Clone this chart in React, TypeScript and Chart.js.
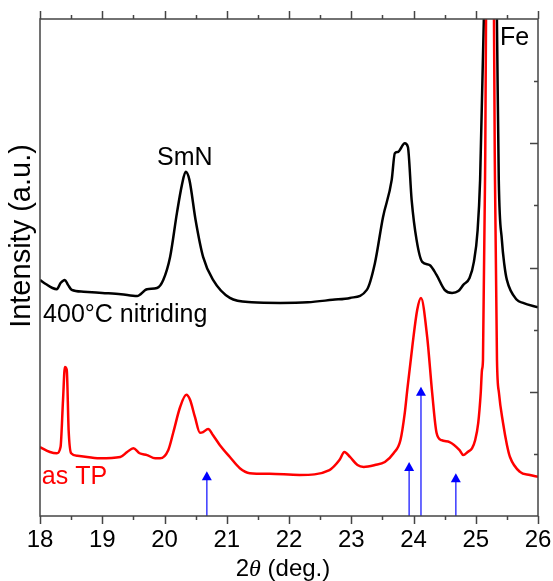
import React, { useEffect, useRef } from "react";
import { Chart, registerables } from "chart.js";

Chart.register(...registerables);

// ---- Data ----
const xTicks = [18, 19, 20, 21, 22, 23, 24, 25, 26];

const nitridedX = [18.0, 18.1, 18.2, 18.27, 18.33, 18.4, 18.45, 18.51, 18.7, 19.0, 19.3, 19.56, 19.72, 19.88, 19.98, 20.09, 20.2, 20.28, 20.34, 20.4, 20.5, 20.62, 20.78, 21.05, 21.4, 21.86, 22.3, 22.7, 22.98, 23.25, 23.38, 23.51, 23.65, 23.7, 23.75, 23.86, 23.91, 23.97, 24.05, 24.14, 24.26, 24.37, 24.5, 24.62, 24.72, 24.8, 24.9, 24.97, 25.03, 25.07, 25.13, 25.235, 25.34, 25.37, 25.42, 25.46, 25.5, 25.66, 25.76, 26.0];
const nitridedY = [3.80, 3.73, 3.67, 3.65, 3.75, 3.80, 3.72, 3.64, 3.61, 3.59, 3.57, 3.54, 3.65, 3.67, 3.80, 4.17, 4.88, 5.33, 5.54, 5.41, 4.76, 4.17, 3.80, 3.51, 3.44, 3.43, 3.44, 3.48, 3.51, 3.64, 4.07, 4.81, 5.41, 5.84, 5.86, 6.00, 5.94, 5.09, 4.44, 4.09, 4.04, 3.88, 3.64, 3.59, 3.62, 3.72, 3.83, 4.09, 4.60, 5.41, 8.0, 16, 8.0, 5.41, 4.44, 4.04, 3.80, 3.48, 3.43, 3.36];

const asTPX = [18.0, 18.16, 18.27, 18.33, 18.37, 18.4, 18.43, 18.46, 18.5, 18.6, 18.96, 19.29, 19.4, 19.5, 19.6, 19.72, 19.85, 19.93, 20.06, 20.14, 20.25, 20.35, 20.41, 20.49, 20.57, 20.62, 20.7, 20.78, 20.89, 21.05, 21.21, 21.37, 21.69, 22.17, 22.65, 22.81, 22.89, 22.98, 23.1, 23.2, 23.38, 23.54, 23.68, 23.79, 23.86, 23.9, 23.98, 24.06, 24.12, 24.22, 24.3, 24.37, 24.45, 24.58, 24.74, 24.8, 24.87, 24.94, 24.99, 25.04, 25.08, 25.1, 25.116, 25.149, 25.165, 25.23, 25.293, 25.309, 25.341, 25.373, 25.438, 25.502, 25.55, 25.71, 25.87, 26.0];
const asTPY = [1.11, 1.03, 1.01, 1.11, 1.87, 2.40, 2.35, 1.38, 1.01, 0.97, 0.93, 0.95, 1.03, 1.09, 1.01, 0.98, 0.93, 0.93, 1.06, 1.34, 1.75, 1.95, 1.87, 1.59, 1.34, 1.35, 1.40, 1.30, 1.14, 0.95, 0.77, 0.69, 0.68, 0.66, 0.74, 0.90, 1.03, 0.95, 0.82, 0.79, 0.82, 0.87, 1.01, 1.22, 1.66, 2.03, 2.72, 3.32, 3.51, 2.88, 1.98, 1.34, 1.22, 1.19, 1.06, 0.98, 1.03, 1.09, 1.22, 1.50, 1.98, 2.35, 2.51, 5.41, 8.0, 40, 8.0, 5.41, 2.51, 1.98, 1.50, 1.14, 0.95, 0.71, 0.66, 0.63];

// Reference (SmN) reflection markers
const markerX = [20.68, 23.93, 24.12, 24.68];
const markerTop = [0.72, 0.87, 2.08, 0.69];

// Text labels
const labelTexts = ["SmN", "Fe", "400\u00B0C nitriding", "as TP"];
const labelX = [19.88, 25.39, 18.05, 18.03];
const labelY = [5.65, 7.58, 3.12, 0.52];
const labelColors = ["#000", "#000", "#000", "#ff0000"];

const FONT = "'Liberation Sans', Arial, sans-serif";

const decor = {
  id: "decor",
  afterDatasetsDraw(chart: any) {
    const { ctx, chartArea: a, scales } = chart;
    const x = scales.x, y = scales.y;
    ctx.save();
    ctx.beginPath();
    ctx.rect(a.left, a.top, a.right - a.left, a.bottom - a.top);
    ctx.clip();
    for (let i = 0; i < markerX.length; i++) {
      const px = x.getPixelForValue(markerX[i]);
      const pb = y.getPixelForValue(0);
      const pt = y.getPixelForValue(markerTop[i]);
      ctx.strokeStyle = "#4646ff";
      ctx.lineWidth = 1.6;
      ctx.beginPath();
      ctx.moveTo(px, pb);
      ctx.lineTo(px, pt + 6);
      ctx.stroke();
      ctx.fillStyle = "#0000ff";
      ctx.beginPath();
      ctx.moveTo(px, pt);
      ctx.lineTo(px - 5, pt + 9);
      ctx.lineTo(px + 5, pt + 9);
      ctx.closePath();
      ctx.fill();
    }
    ctx.restore();
  },
  afterDraw(chart: any) {
    const { ctx, chartArea: a, scales } = chart;
    const x = scales.x, y = scales.y;
    ctx.save();
    ctx.lineWidth = 1.5;
    ctx.strokeStyle = "#444";
    ctx.strokeRect(a.left, a.top, a.right - a.left, a.bottom - a.top);
    ctx.beginPath();
    for (let v = x.min; v <= x.max + 1e-9; v += 0.5) {
      const px = Math.round(x.getPixelForValue(v)) + 0.5;
      const len = Math.abs(v - Math.round(v)) < 1e-6 ? 8 : 4;
      ctx.moveTo(px, a.bottom);
      ctx.lineTo(px, a.bottom + len);
      ctx.moveTo(px, a.top);
      ctx.lineTo(px, a.top - len);
    }
    for (let v = 1; v < y.max; v += 1) {
      const py = Math.round(y.getPixelForValue(v)) + 0.5;
      const len = v % 2 === 0 ? 8 : 4;
      ctx.moveTo(a.right, py);
      ctx.lineTo(a.right - len, py);
    }
    ctx.stroke();

    // annotations
    ctx.font = `25px ${FONT}`;
    ctx.textBaseline = "alphabetic";
    ctx.textAlign = "left";
    for (let i = 0; i < labelTexts.length; i++) {
      ctx.fillStyle = labelColors[i];
      ctx.fillText(labelTexts[i], x.getPixelForValue(labelX[i]), y.getPixelForValue(labelY[i]));
    }

    // x title: 2θ (deg.)
    const parts: [string, string][] = [
      ["2", `24px ${FONT}`],
      ["\u03B8", `italic 24px 'Liberation Serif', serif`],
      [" (deg.)", `24px ${FONT}`],
    ];
    let total = 0;
    for (const [t, f] of parts) { ctx.font = f; total += ctx.measureText(t).width; }
    let cx = 283 - total / 2;
    ctx.fillStyle = "#000";
    for (const [t, f] of parts) {
      ctx.font = f;
      ctx.fillText(t, cx, 576);
      cx += ctx.measureText(t).width;
    }

    // y title
    ctx.save();
    ctx.translate(30, 236);
    ctx.rotate(-Math.PI / 2);
    ctx.font = `29px ${FONT}`;
    ctx.textAlign = "center";
    ctx.fillText("Intensity (a.u.)", 0, 0);
    ctx.restore();
    ctx.restore();
  },
};

export default function App() {
  const ref = useRef<HTMLCanvasElement>(null);
  useEffect(() => {
    document.body.style.margin = "0";
    const canvas = ref.current!;
    const chart = new Chart(canvas, {
      type: "line",
      data: {
        datasets: [
          {
            label: "as TP",
            data: asTPX.map((v, i) => ({ x: v, y: asTPY[i] })),
            borderColor: "#ff0000",
            borderWidth: 2.5,
            pointRadius: 0,
            cubicInterpolationMode: "monotone",
          },
          {
            label: "400°C nitriding",
            data: nitridedX.map((v, i) => ({ x: v, y: nitridedY[i] })),
            borderColor: "#000000",
            borderWidth: 2.5,
            pointRadius: 0,
            cubicInterpolationMode: "monotone",
          },
        ],
      },
      options: {
        responsive: false,
        animation: false,
        devicePixelRatio: 1,
        layout: { padding: { top: 19, right: 15, left: 0, bottom: 0 } },
        plugins: { legend: { display: false }, tooltip: { enabled: false } },
        scales: {
          x: {
            type: "linear",
            min: 18,
            max: 26,
            afterBuildTicks: (s: any) => { s.ticks = xTicks.map((v) => ({ value: v })); },
            ticks: { font: { family: FONT, size: 24 }, color: "#000", padding: 10, maxRotation: 0 },
            grid: { display: false, drawTicks: false },
            border: { display: false },
            afterFit: (s: any) => { s.height = 65; s.paddingLeft = 0; s.paddingRight = 0; },
          },
          y: {
            type: "linear",
            min: 0,
            max: 8,
            ticks: { display: false },
            grid: { display: false, drawTicks: false },
            border: { display: false },
            afterFit: (s: any) => { s.width = 40; s.paddingTop = 0; s.paddingBottom = 0; },
          },
        },
      },
      plugins: [decor],
    });
    return () => chart.destroy();
  }, []);
  return <canvas ref={ref} width={553} height={581} style={{ display: "block" }} />;
}
